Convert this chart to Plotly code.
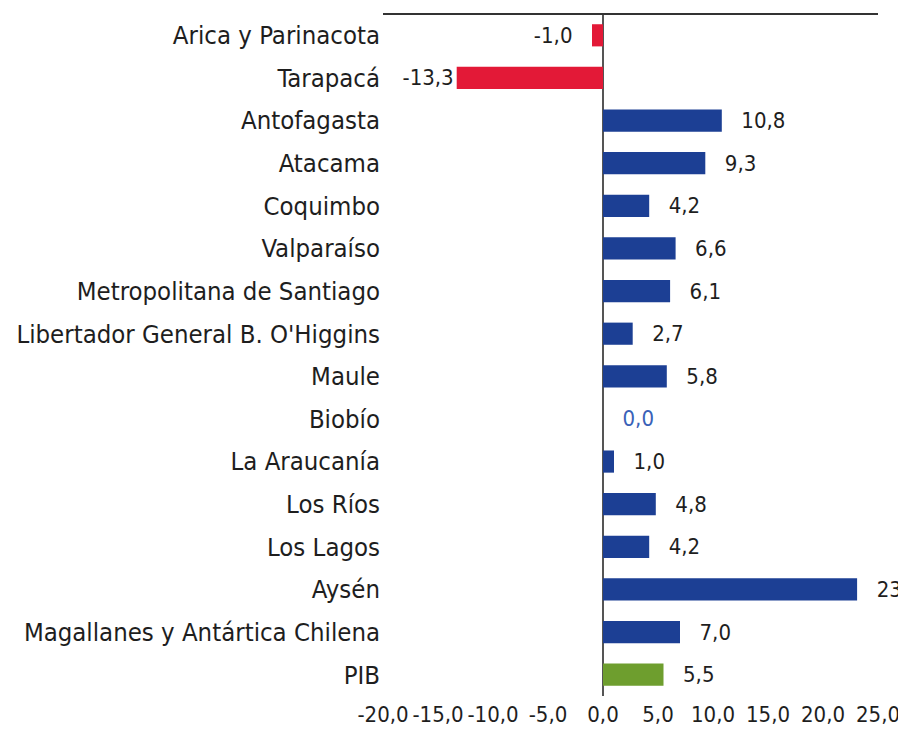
import plotly.graph_objects as go

categories = ["Arica y Parinacota", "Tarapacá", "Antofagasta", "Atacama", "Coquimbo",
              "Valparaíso", "Metropolitana de Santiago", "Libertador General B. O'Higgins",
              "Maule", "Biobío", "La Araucanía", "Los Ríos", "Los Lagos", "Aysén",
              "Magallanes y Antártica Chilena", "PIB"]
values = [-1.0, -13.3, 10.8, 9.3, 4.2, 6.6, 6.1, 2.7, 5.8, 0.0, 1.0, 4.8, 4.2, 23.1, 7.0, 5.5]
tick_vals = [-20, -15, -10, -5, 0, 5, 10, 15, 20, 25]
tick_text = ["-20,0", "-15,0", "-10,0", "-5,0", "0,0", "5,0", "10,0", "15,0", "20,0", "25,0"]

RED = "#E31937"
BLUE = "#1C3F94"
GREEN = "#6E9E2E"

colors = []
for c, v in zip(categories, values):
    if c == "PIB":
        colors.append(GREEN)
    elif v < 0:
        colors.append(RED)
    else:
        colors.append(BLUE)

PAD = "\u00a0\u00a0\u2009"
labels = []
for v in values:
    s = f"{v:.1f}".replace(".", ",")
    if v >= 0:
        s = PAD + s
    elif abs(v) < 10:
        s = s + PAD
    labels.append(s)
text_colors = ["#3A62B8" if v == 0 else "#1e1e1e" for v in values]

FONT = "DejaVu Sans Condensed, Liberation Sans Narrow, sans-serif"

fig = go.Figure(go.Bar(
    x=values, y=categories, orientation="h",
    marker=dict(color=colors, line=dict(width=0)),
    width=0.52,
    text=labels, textposition="outside", constraintext="none",
    textfont=dict(family=FONT, size=22, color=text_colors),
    cliponaxis=False,
))

fig.update_layout(
    width=898, height=725,
    margin=dict(l=375, r=28, t=6, b=33),
    paper_bgcolor="white", plot_bgcolor="white",
    showlegend=False,
    xaxis=dict(range=[-20, 25], tickvals=tick_vals, ticktext=tick_text,
               showgrid=False, zeroline=True, zerolinecolor="#555555", zerolinewidth=2,
               showline=False, ticks="", ticklabelstandoff=3,
               tickfont=dict(family=FONT, size=22, color="#1e1e1e")),
    yaxis=dict(autorange="reversed", showgrid=False, zeroline=False, showline=False,
               ticks="", ticklabelstandoff=2,
               tickfont=dict(family=FONT, size=25.5, color="#1e1e1e")),
    shapes=[dict(type="line", xref="paper", yref="paper", x0=0, x1=1, y0=1, y1=1,
                 line=dict(color="#333333", width=2))],
)

fig.write_html("out.html")
